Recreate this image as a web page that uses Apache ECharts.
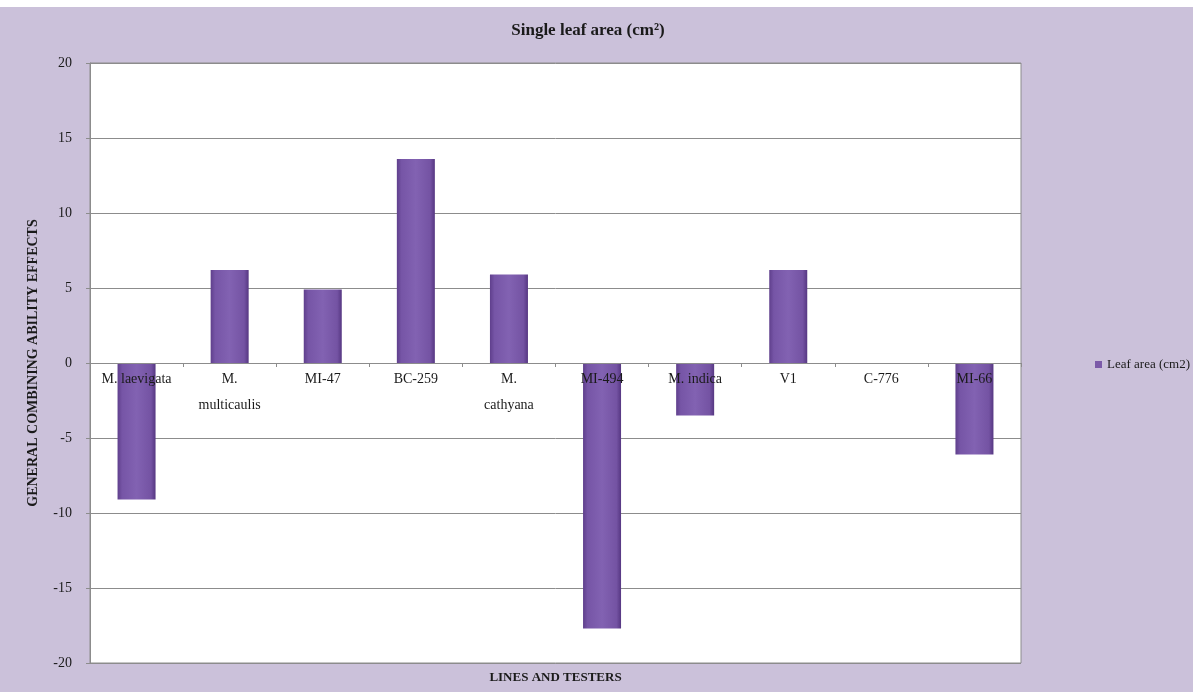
<!DOCTYPE html>
<html>
<head>
<meta charset="utf-8">
<script src="https://cdn.jsdelivr.net/npm/echarts@6/dist/echarts.min.js"></script>
<style>
  html, body { margin: 0; padding: 0; background: #ffffff; }
  #chart { position: absolute; left: 0; top: 7px; width: 1193px; height: 685px; }
</style>
</head>
<body>
<div id="chart"></div>
<script>
const categories = ['M. laevigata', 'M.\nmulticaulis', 'MI-47', 'BC-259', 'M.\ncathyana', 'MI-494', 'M. indica', 'V1', 'C-776', 'MI-66'];
const leafArea = [-9.1, 6.2, 4.9, 13.6, 5.9, -17.7, -3.5, 6.2, 0, -6.1];
const seriesName = 'Leaf area (cm2)';
const yMin = -20, yMax = 20, yStep = 5;

const serif = '"Liberation Serif", "DejaVu Serif", serif';
const chart = echarts.init(document.getElementById('chart'));
const gridTop = 56, gridBottom = 29;
chart.setOption({
  animation: false,
  backgroundColor: '#cbc1da',
  title: {
    text: 'Single leaf area (cm²)',
    left: 583, top: 10, textAlign: 'center',
    textStyle: { fontFamily: serif, fontSize: 17, fontWeight: 'bold', color: '#1a1a1a' }
  },
  legend: {
    data: [seriesName],
    left: 1090, top: 346,
    icon: 'rect', itemWidth: 7, itemHeight: 7, itemGap: 4,
    itemStyle: { color: '#7b5aa8' },
    textStyle: { fontFamily: serif, fontSize: 13, color: '#1a1a1a' }
  },
  grid: { left: 90, right: 172, top: gridTop, bottom: gridBottom, outerBoundsMode: 'none', containLabel: false,
          show: true, backgroundColor: '#ffffff', borderColor: '#8c8c8c', borderWidth: 1 },
  xAxis: {
    type: 'category',
    data: categories,
    position: 'bottom',
    offset: 0,
    z: 5,
    axisLine: { onZero: false, lineStyle: { color: '#8c8c8c' } },
    axisTick: { show: true, inside: false, length: 4, lineStyle: { color: '#8c8c8c' } },
    axisLabel: { fontFamily: serif, fontSize: 14, color: '#1a1a1a', margin: 3, interval: 0, lineHeight: 26 }
  },
  yAxis: {
    type: 'value',
    min: yMin, max: yMax, interval: yStep,
    name: 'GENERAL COMBINING ABILITY EFFECTS',
    nameLocation: 'middle',
    nameGap: 50,
    nameRotate: 90,
    nameMoveOverlap: false,
    nameTextStyle: { fontFamily: serif, fontSize: 14, fontWeight: 'bold', color: '#1a1a1a' },
    axisLine: { show: true, lineStyle: { color: '#8c8c8c' } },
    axisTick: { show: true, length: 4, lineStyle: { color: '#8c8c8c' } },
    axisLabel: { fontFamily: serif, fontSize: 14, color: '#1a1a1a', margin: 18, align: 'right' },
    splitLine: { show: true, lineStyle: { color: '#8c8c8c', width: 1 } }
  },
  graphic: [{
    type: 'text',
    id: 'xname',
    left: 'center',
    style: { text: 'LINES AND TESTERS', x: 0, fontFamily: serif, fontSize: 13, fontWeight: 'bold', fill: '#1a1a1a', textAlign: 'center', textVerticalAlign: 'middle' }
  }],
  series: [{
    name: seriesName,
    type: 'bar',
    data: leafArea,
    barWidth: 38,
    z: 2,
    itemStyle: {
      color: new echarts.graphic.LinearGradient(0, 0, 1, 0, [
        { offset: 0, color: '#5f3f8c' },
        { offset: 0.12, color: '#7655a6' },
        { offset: 0.5, color: '#8262b2' },
        { offset: 0.88, color: '#7453a3' },
        { offset: 1, color: '#563782' }
      ]),
      shadowBlur: 4, shadowColor: 'rgba(0,0,0,0.35)', shadowOffsetY: 2
    }
  }]
});
// move the category axis (with its labels) onto the zero line
const zeroY = chart.convertToPixel({ yAxisIndex: 0 }, 0);
const bottomY = chart.getHeight() - gridBottom;
const xNameX = chart.convertToPixel({ xAxisIndex: 0 }, 0) / 2 + chart.convertToPixel({ xAxisIndex: 0 }, categories.length - 1) / 2;
chart.setOption({
  xAxis: { offset: -(bottomY - zeroY) },
  graphic: [{ id: 'xname', left: null, x: xNameX, y: bottomY + 15 }]
});
</script>
</body>
</html>
